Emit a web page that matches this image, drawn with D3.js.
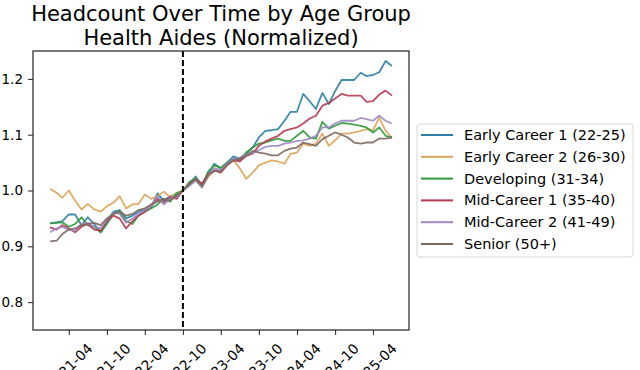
<!DOCTYPE html>
<html>
<head>
<meta charset="utf-8">
<script src="https://cdn.jsdelivr.net/npm/d3@7"></script>
<style>
  body { margin: 0; background: #fff; }
  svg { display: block; font-family: 'DejaVu Sans', sans-serif; }
  .tick text { fill: #000; }
</style>
</head>
<body>
<svg id="chart" width="640" height="370"></svg>
<script>
// monthly points, 2021-01 .. 2025-07, normalized to 2022-10
var startMonth = '2021-01';
var endMonth = '2025-07';
var refMonth = '2022-10';

var seriesNames = ['Early Career 1 (22-25)', 'Early Career 2 (26-30)', 'Developing (31-34)',
  'Mid-Career 1 (35-40)', 'Mid-Career 2 (41-49)', 'Senior (50+)'];

var earlyCareer1 = [0.941, 0.943, 0.945, 0.957, 0.957, 0.938, 0.952, 0.940, 0.925, 0.945, 0.962,
  0.965, 0.950, 0.955, 0.962, 0.966, 0.970, 0.995, 0.982, 0.990, 0.992,
  1.000, 1.012, 1.025, 1.009, 1.030, 1.048, 1.039, 1.050, 1.061, 1.057, 1.066, 1.077, 1.095, 1.107,
  1.108, 1.110, 1.125, 1.141, 1.141, 1.173, 1.160, 1.146, 1.175, 1.155, 1.178, 1.198, 1.198, 1.198,
  1.211, 1.205, 1.207, 1.212, 1.232, 1.223];
var earlyCareer2 = [1.003, 0.996, 0.987, 1.000, 0.982, 0.966, 0.976, 0.966, 0.962, 0.972, 0.978,
  0.990, 0.968, 0.975, 0.976, 0.993, 0.985, 0.990, 0.998, 0.988, 0.996,
  1.000, 1.012, 1.022, 1.008, 1.025, 1.035, 1.039, 1.048, 1.054, 1.040, 1.021, 1.032, 1.045, 1.050,
  1.054, 1.052, 1.048, 1.066, 1.068, 1.084, 1.080, 1.084, 1.102, 1.080, 1.090, 1.102, 1.102, 1.104,
  1.107, 1.110, 1.108, 1.130, 1.107, 1.095];
var developing = [0.941, 0.942, 0.943, 0.935, 0.940, 0.952, 0.938, 0.935, 0.925, 0.940, 0.958,
  0.962, 0.945, 0.940, 0.955, 0.962, 0.968, 0.975, 0.985, 0.980, 0.995,
  1.000, 1.015, 1.022, 1.010, 1.035, 1.045, 1.041, 1.050, 1.057, 1.054, 1.068, 1.077, 1.084, 1.086,
  1.090, 1.093, 1.089, 1.089, 1.098, 1.107, 1.095, 1.093, 1.123, 1.111, 1.116, 1.121, 1.120, 1.118,
  1.116, 1.113, 1.104, 1.113, 1.098, 1.095];
var midCareer1 = [0.934, 0.930, 0.938, 0.932, 0.925, 0.935, 0.940, 0.930, 0.928, 0.945, 0.955,
  0.950, 0.932, 0.945, 0.955, 0.962, 0.972, 0.985, 0.978, 0.988, 0.985,
  1.000, 1.010, 1.020, 1.012, 1.030, 1.036, 1.032, 1.045, 1.054, 1.052, 1.062, 1.066, 1.080, 1.088,
  1.093, 1.098, 1.107, 1.110, 1.113, 1.120, 1.129, 1.134, 1.152, 1.157, 1.165, 1.173, 1.170, 1.170,
  1.170, 1.159, 1.160, 1.172, 1.179, 1.170];
var midCareer2 = [0.925, 0.932, 0.935, 0.930, 0.928, 0.940, 0.942, 0.935, 0.932, 0.948, 0.960,
  0.958, 0.942, 0.950, 0.958, 0.965, 0.972, 0.990, 0.975, 0.985, 0.988,
  1.000, 1.008, 1.018, 1.005, 1.028, 1.040, 1.036, 1.048, 1.057, 1.059, 1.064, 1.068, 1.072, 1.078,
  1.080, 1.080, 1.084, 1.086, 1.089, 1.090, 1.093, 1.098, 1.113, 1.113, 1.120, 1.125, 1.125, 1.125,
  1.130, 1.128, 1.125, 1.134, 1.125, 1.120];
var senior = [0.909, 0.910, 0.922, 0.930, 0.932, 0.938, 0.940, 0.942, 0.938, 0.950, 0.958,
  0.962, 0.955, 0.958, 0.965, 0.968, 0.975, 0.980, 0.985, 0.982, 0.990,
  1.000, 1.012, 1.020, 1.008, 1.028, 1.035, 1.034, 1.046, 1.054, 1.057, 1.062, 1.071, 1.068, 1.066,
  1.063, 1.063, 1.071, 1.075, 1.077, 1.086, 1.083, 1.080, 1.092, 1.098, 1.104, 1.100, 1.095, 1.086,
  1.084, 1.086, 1.086, 1.093, 1.093, 1.095];

var seriesValues = [earlyCareer1, earlyCareer2, developing, midCareer1, midCareer2, senior];
var colors = ['#2e7fa3', '#d8a55a', '#2f9a3c', '#b53a52', '#9d88c2', '#806862'];

var xTickLabels = ['2021-04', '2021-10', '2022-04', '2022-10', '2023-04', '2023-10',
  '2024-04', '2024-10', '2025-04'];
var yTicks = [0.8, 0.9, 1.0, 1.1, 1.2];

var parseMonth = d3.timeParse('%Y-%m');
var months = d3.timeMonth.range(parseMonth(startMonth), d3.timeMonth.offset(parseMonth(endMonth), 1));

// plot box (note: "top" is taken by window.top, so the names are prefixed)
var plotLeft = 33, plotRight = 409, plotTop = 51, plotBottom = 330;

var svg = d3.select('#chart');

// x domain with matplotlib-like 5% margins
var t0 = months[0], t1 = months[months.length - 1];
var pad = (t1 - t0) * 0.05;
var x = d3.scaleTime()
  .domain([new Date(+t0 - pad), new Date(+t1 + pad)])
  .range([plotLeft, plotRight]);
var y = d3.scaleLinear()
  .domain([0.75, 1.25])
  .range([plotBottom, plotTop]);

// title
svg.append('text')
  .attr('x', (plotLeft + plotRight) / 2).attr('y', 21)
  .attr('text-anchor', 'middle')
  .style('font-size', '21px')
  .text('Headcount Over Time by Age Group');
svg.append('text')
  .attr('x', (plotLeft + plotRight) / 2).attr('y', 45)
  .attr('text-anchor', 'middle')
  .style('font-size', '21px')
  .text('Health Aides (Normalized)');

// lines
svg.append('clipPath').attr('id', 'plotclip')
  .append('rect')
  .attr('x', plotLeft).attr('y', plotTop)
  .attr('width', plotRight - plotLeft).attr('height', plotBottom - plotTop);

var line = d3.line()
  .x(function(d, i) { return x(months[i]); })
  .y(function(d) { return y(d); });

var plot = svg.append('g').attr('clip-path', 'url(#plotclip)');
seriesValues.forEach(function(vals, k) {
  plot.append('path')
    .datum(vals)
    .attr('d', line)
    .attr('fill', 'none')
    .attr('stroke', colors[k])
    .attr('stroke-width', 1.8)
    .attr('stroke-linejoin', 'round')
    .attr('stroke-opacity', 0.9);
});

// reference line
plot.append('line')
  .attr('x1', x(parseMonth(refMonth))).attr('x2', x(parseMonth(refMonth)))
  .attr('y1', plotTop).attr('y2', plotBottom)
  .attr('stroke', '#000')
  .attr('stroke-width', 2)
  .attr('stroke-dasharray', '6,3');

// axes
var yAxis = svg.append('g')
  .attr('transform', 'translate(' + plotLeft + ',0)')
  .call(d3.axisLeft(y).tickValues(yTicks).tickFormat(d3.format('.1f')).tickSize(5).tickPadding(5));
yAxis.select('.domain').remove();
yAxis.selectAll('.tick line').attr('stroke', '#333').attr('stroke-width', 1.1);
yAxis.selectAll('.tick text').style('font-size', '13.5px').style('font-family', 'DejaVu Sans');

var xAxis = svg.append('g')
  .attr('transform', 'translate(0,' + plotBottom + ')')
  .call(d3.axisBottom(x).tickValues(xTickLabels.map(parseMonth)).tickFormat(d3.timeFormat('%Y-%m')).tickSize(5));
xAxis.select('.domain').remove();
xAxis.selectAll('.tick line').attr('stroke', '#333').attr('stroke-width', 1.1);
xAxis.selectAll('.tick text')
  .style('font-size', '14px')
  .style('font-family', 'DejaVu Sans')
  .attr('text-anchor', 'middle')
  .attr('dy', null)
  .attr('dominant-baseline', 'central')
  .each(function() {
    // rotate 45deg, keep the rotated box centered under the tick
    var L = this.getComputedTextLength();
    var h = 14 * 1.17;
    var half = (L + h) * Math.SQRT1_2 / 2;
    d3.select(this)
      .attr('x', 0).attr('y', 0)
      .attr('transform', 'translate(0,' + (10 + half) + ') rotate(-45)');
  });

// frame
svg.append('rect')
  .attr('x', plotLeft).attr('y', plotTop)
  .attr('width', plotRight - plotLeft).attr('height', plotBottom - plotTop)
  .attr('fill', 'none')
  .attr('stroke', '#222')
  .attr('stroke-width', 1.2);

// legend
var legend = svg.append('g').attr('transform', 'translate(417,124)');
legend.append('rect')
  .attr('width', 216).attr('height', 133)
  .attr('rx', 3)
  .attr('fill', '#fff')
  .attr('stroke', '#d6d6d6')
  .attr('stroke-width', 1);
seriesNames.forEach(function(name, k) {
  var g = legend.append('g').attr('transform', 'translate(0,' + (11 + k * 21.8) + ')');
  g.append('line')
    .attr('x1', 4).attr('x2', 36)
    .attr('stroke', colors[k])
    .attr('stroke-width', 2);
  g.append('text')
    .attr('x', 47).attr('dy', '0.35em')
    .style('font-size', '14.5px')
    .text(name);
});
</script>
</body>
</html>
